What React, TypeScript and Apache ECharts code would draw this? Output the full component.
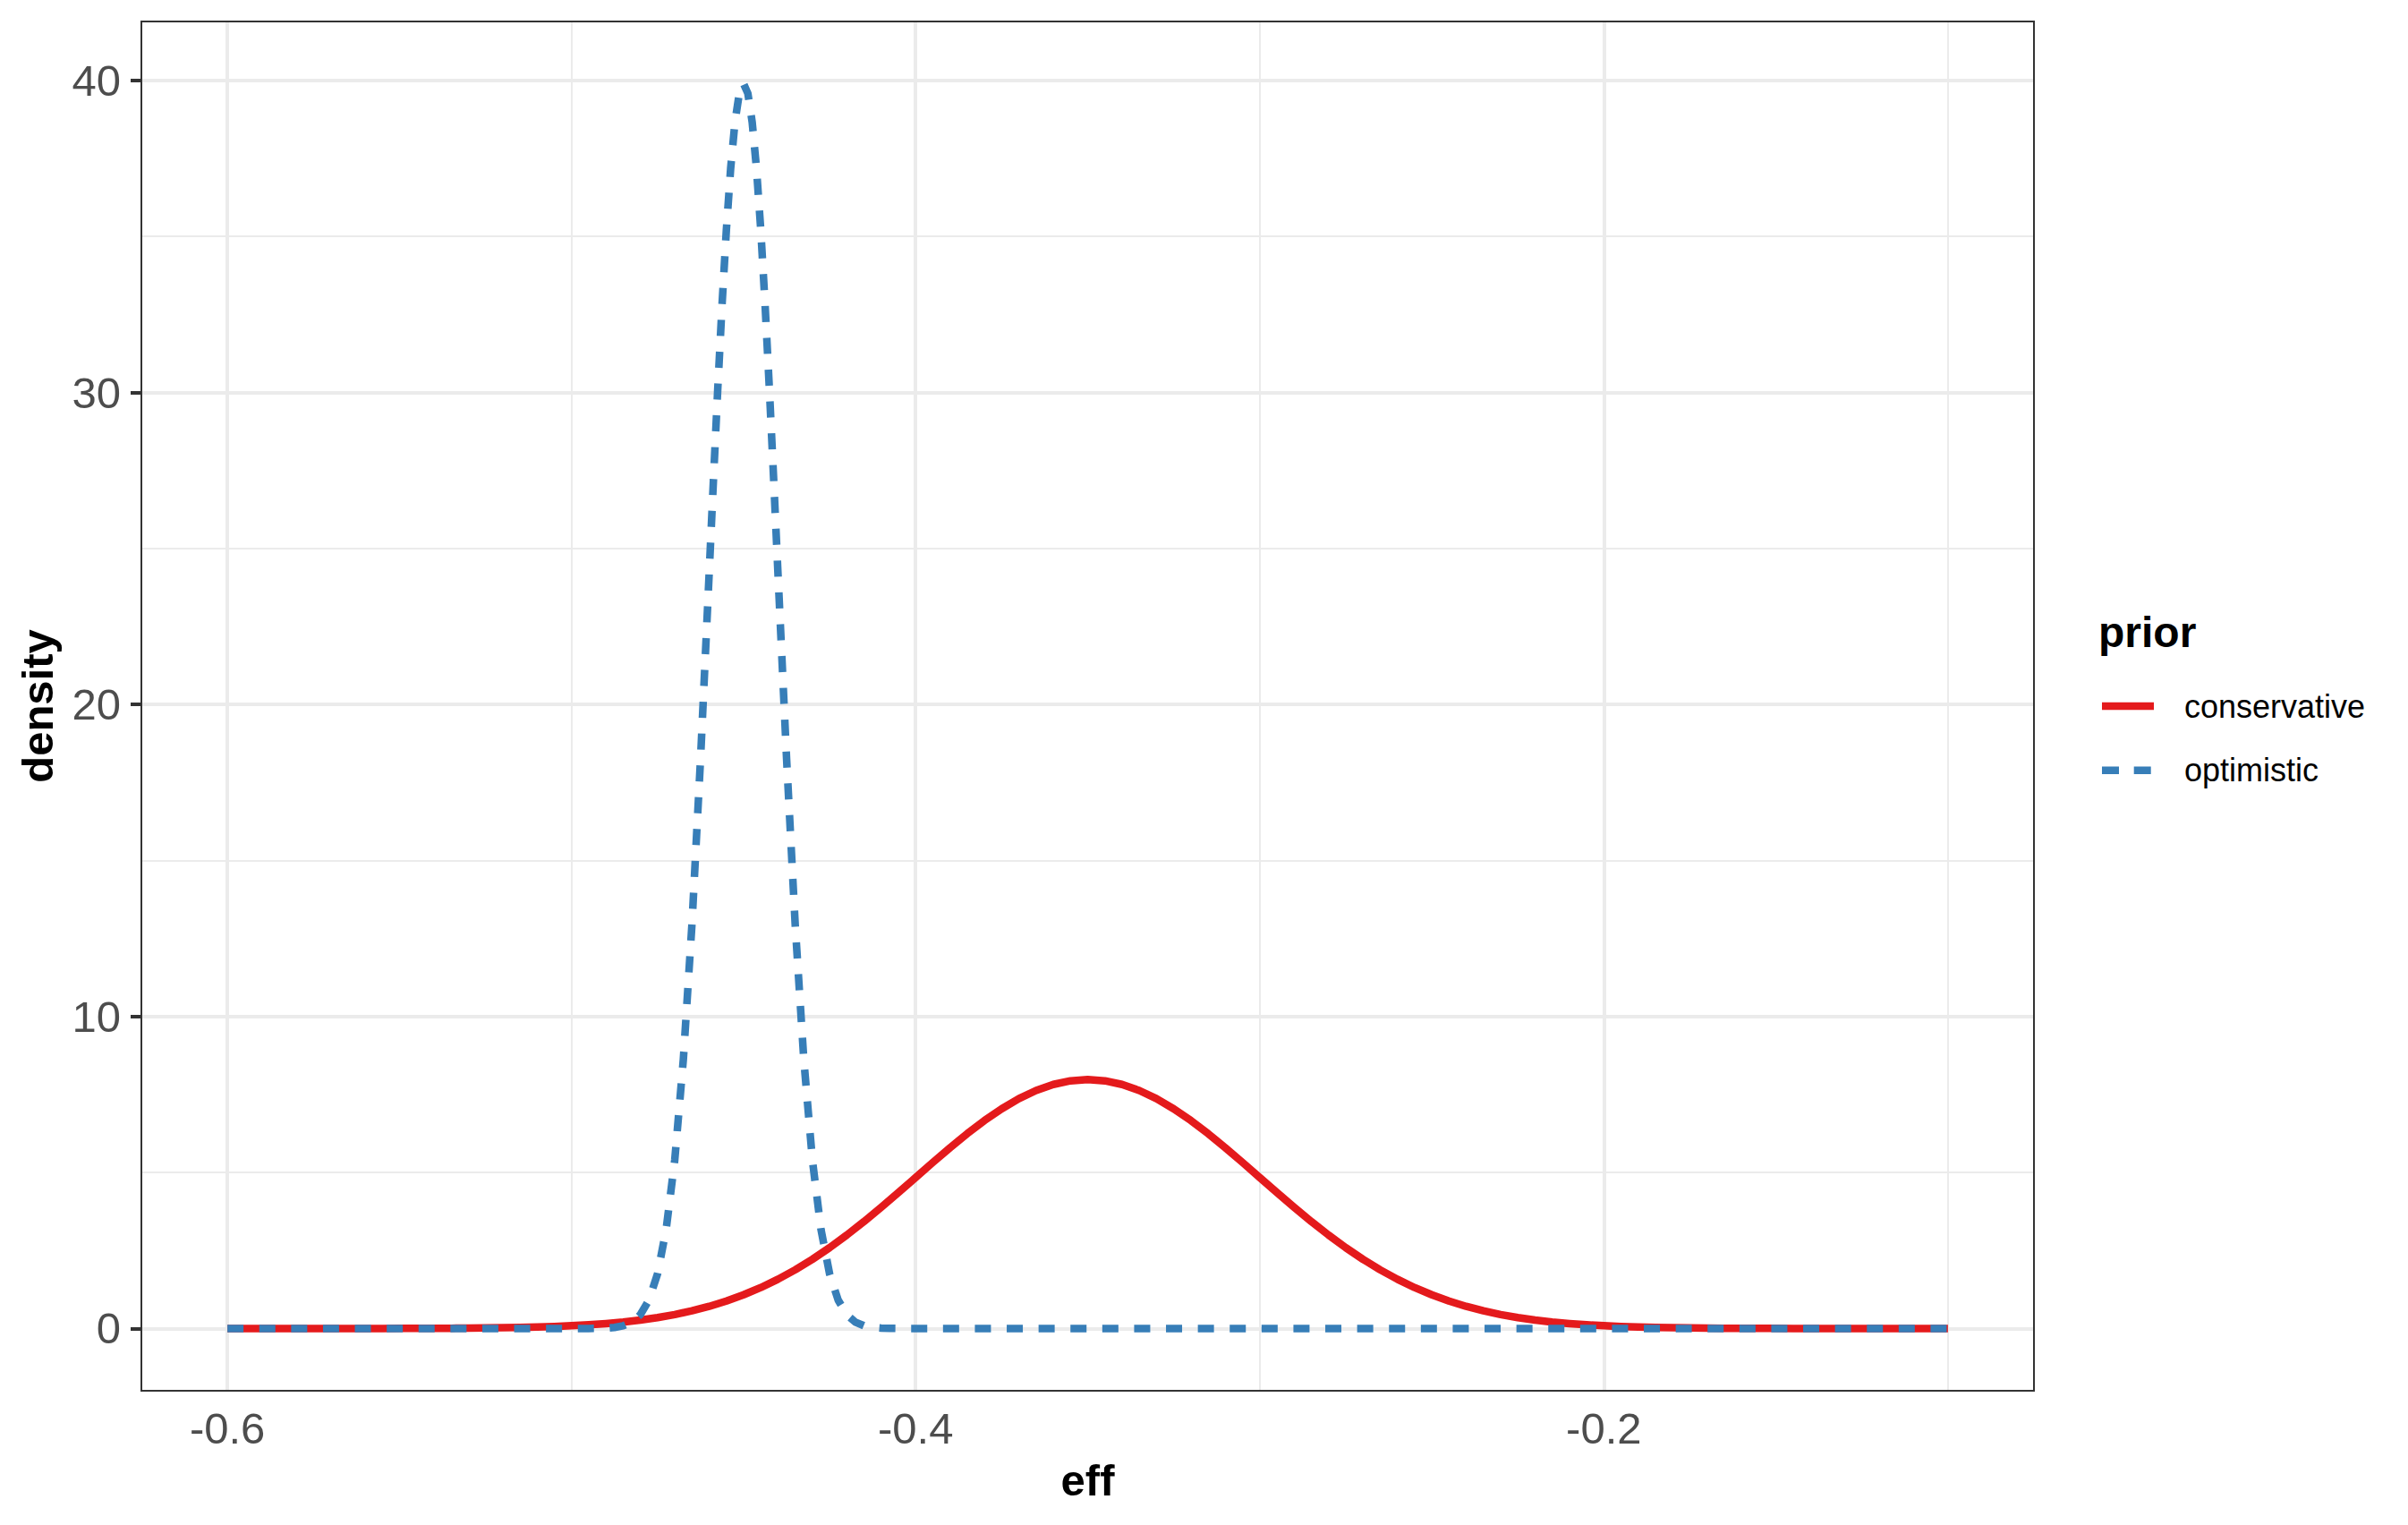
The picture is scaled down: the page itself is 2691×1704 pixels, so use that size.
import React, { useEffect, useRef } from "react";
import * as echarts from "echarts";

// ---- data ----
const xTickValues = [-0.6, -0.4, -0.2];
const yTickValues = [0, 10, 20, 30, 40];
const xMajorGrid = [-0.6, -0.4, -0.2];
const xMinorGrid = [-0.5, -0.3, -0.1];
const yMajorGrid = [0, 10, 20, 30, 40];
const yMinorGrid = [5, 15, 25, 35];

const seriesNames = ["conservative", "optimistic"];

const consX = [
  -0.6, -0.595, -0.59, -0.585, -0.58, -0.575, -0.57, -0.565, -0.56, -0.555,
  -0.55, -0.545, -0.54, -0.535, -0.53, -0.525, -0.52, -0.515, -0.51, -0.505,
  -0.5, -0.495, -0.49, -0.485, -0.48, -0.475, -0.47, -0.465, -0.46, -0.455,
  -0.45, -0.445, -0.44, -0.435, -0.43, -0.425, -0.42, -0.415, -0.41, -0.405,
  -0.4, -0.395, -0.39, -0.385, -0.38, -0.375, -0.37, -0.365, -0.36, -0.355,
  -0.35, -0.345, -0.34, -0.335, -0.33, -0.325, -0.32, -0.315, -0.31, -0.305,
  -0.3, -0.295, -0.29, -0.285, -0.28, -0.275, -0.27, -0.265, -0.26, -0.255,
  -0.25, -0.245, -0.24, -0.235, -0.23, -0.225, -0.22, -0.215, -0.21, -0.205,
  -0.2, -0.195, -0.19, -0.185, -0.18, -0.175, -0.17, -0.165, -0.16, -0.155,
  -0.15, -0.145, -0.14, -0.135, -0.13, -0.125, -0.12, -0.115, -0.11, -0.105,
  -0.1,
];
const consY = [
  0, 0, 0.0001, 0.0001, 0.0002, 0.0003, 0.0005, 0.0008, 0.0012, 0.0018,
  0.0027, 0.004, 0.0058, 0.0085, 0.0122, 0.0175, 0.0246, 0.0345, 0.0477, 0.0653,
  0.0886, 0.1191, 0.1583, 0.2084, 0.2717, 0.3506, 0.4479, 0.5665, 0.7095, 0.88,
  1.08, 1.312, 1.579, 1.881, 2.218, 2.59, 2.995, 3.427, 3.884, 4.357,
  4.839, 5.322, 5.794, 6.245, 6.664, 7.041, 7.365, 7.628, 7.821, 7.939,
  7.979, 7.939, 7.821, 7.628, 7.365, 7.041, 6.664, 6.245, 5.794, 5.322,
  4.839, 4.357, 3.884, 3.427, 2.995, 2.59, 2.218, 1.881, 1.579, 1.312,
  1.08, 0.88, 0.7095, 0.5665, 0.4479, 0.3506, 0.2717, 0.2084, 0.1583, 0.1191,
  0.0886, 0.0653, 0.0477, 0.0345, 0.0246, 0.0175, 0.0122, 0.0085, 0.0058, 0.004,
  0.0027, 0.0018, 0.0012, 0.0008, 0.0005, 0.0003, 0.0002, 0.0001, 0.0001, 0, 0,
];

const optX = [
  -0.6, -0.55, -0.5, -0.4975, -0.495, -0.4925, -0.49, -0.4875, -0.485, -0.4825,
  -0.48, -0.4775, -0.475, -0.4725, -0.47, -0.4675, -0.465, -0.4625, -0.46,
  -0.45875, -0.4575, -0.45625, -0.455, -0.45375, -0.4525, -0.45125, -0.45,
  -0.44875, -0.4475, -0.44625, -0.445, -0.44375, -0.4425, -0.44125, -0.44,
  -0.4375, -0.435, -0.4325, -0.43, -0.4275, -0.425, -0.4225, -0.42, -0.4175,
  -0.415, -0.4125, -0.41, -0.4075, -0.405, -0.4025, -0.4, -0.35, -0.3, -0.25,
  -0.2, -0.15, -0.1,
];
const optY = [
  0, 0, 0.0001, 0.0005, 0.0016, 0.0048, 0.0134, 0.0353, 0.0873, 0.2029,
  0.4432, 0.9093, 1.753, 3.174, 5.399, 8.628, 12.952, 18.265, 24.197,
  27.205, 30.114, 32.816, 35.207, 37.185, 38.667, 39.584, 39.894,
  39.584, 38.667, 37.185, 35.207, 32.816, 30.114, 27.205, 24.197,
  18.265, 12.952, 8.628, 5.399, 3.174, 1.753, 0.9093, 0.4432, 0.2029,
  0.0873, 0.0353, 0.0134, 0.0048, 0.0016, 0.0005, 0.0001, 0, 0, 0,
  0, 0, 0,
];

const FONT = "'Liberation Sans', Arial, Helvetica, sans-serif";
const RED = "#E41A1C";
const BLUE = "#377EB8";
const LINE_W = 8.5;

function zip(xs: number[], ys: number[]) {
  return xs.map((x, i) => [x, ys[i]]);
}

export default function App() {
  const ref = useRef<HTMLDivElement>(null);

  useEffect(() => {
    if (!ref.current) return;
    const chart = echarts.init(ref.current, null, { renderer: "svg" });

    const gridLines = [
      ...xMajorGrid.map((v) => ({ xAxis: v, lineStyle: { width: 4 } })),
      ...xMinorGrid.map((v) => ({ xAxis: v, lineStyle: { width: 2 } })),
      ...yMajorGrid.map((v) => ({ yAxis: v, lineStyle: { width: 4 } })),
      ...yMinorGrid.map((v) => ({ yAxis: v, lineStyle: { width: 2 } })),
    ];

    const option: any = {
      animation: false,
      backgroundColor: "#ffffff",
      textStyle: { fontFamily: FONT },
      grid: {
        left: 158,
        top: 24,
        width: 2115,
        height: 1530,
        show: true,
        borderColor: "#333333",
        borderWidth: 2,
        backgroundColor: "transparent",
        z: 5,
      },
      xAxis: {
        type: "value",
        min: -0.625,
        max: -0.075,
        axisLine: { show: false },
        splitLine: { show: false },
        axisTick: {
          show: true,
          customValues: xTickValues,
          length: 12,
          lineStyle: { color: "#333333", width: 4 },
        },
        axisLabel: {
          customValues: xTickValues,
          fontSize: 49,
          color: "#4D4D4D",
          fontFamily: FONT,
          margin: 17,
          formatter: (v: number) => v.toFixed(1),
        },
        name: "eff",
        nameLocation: "middle",
        nameGap: 75,
        nameTextStyle: {
          fontSize: 49,
          fontWeight: "bold",
          color: "#000000",
          fontFamily: FONT,
        },
      },
      yAxis: {
        type: "value",
        min: -1.995,
        max: 41.889,
        axisLine: { show: false },
        splitLine: { show: false },
        axisTick: {
          show: true,
          customValues: yTickValues,
          length: 12,
          lineStyle: { color: "#333333", width: 4 },
        },
        axisLabel: {
          customValues: yTickValues,
          fontSize: 49,
          color: "#4D4D4D",
          fontFamily: FONT,
          margin: 23,
        },
        name: "density",
        nameLocation: "middle",
        nameRotate: 90,
        nameGap: 92,
        nameTextStyle: {
          fontSize: 49,
          fontWeight: "bold",
          color: "#000000",
          fontFamily: FONT,
        },
      },
      series: [
        {
          type: "line",
          name: "grid",
          data: [[-0.6, 0]],
          symbol: "none",
          lineStyle: { opacity: 0 },
          silent: true,
          z: 1,
          markLine: {
            silent: true,
            symbol: "none",
            z: 1,
            label: { show: false },
            lineStyle: { type: "solid", color: "#EBEBEB" },
            emphasis: { disabled: true },
            data: gridLines,
          },
        },
        {
          type: "line",
          name: seriesNames[0],
          data: zip(consX, consY),
          symbol: "none",
          z: 3,
          lineStyle: { color: RED, width: LINE_W, cap: "butt", join: "round" },
          itemStyle: { color: RED },
        },
        {
          type: "line",
          name: seriesNames[1],
          data: zip(optX, optY),
          symbol: "none",
          z: 4,
          lineStyle: {
            color: BLUE,
            width: LINE_W,
            type: [18, 17.6],
            cap: "butt",
            join: "round",
          },
          itemStyle: { color: BLUE },
        },
      ],
      graphic: [
        {
          type: "text",
          x: 2345,
          y: 706.4,
          style: {
            text: "prior",
            fontSize: 48,
            fontWeight: "bold",
            fontFamily: FONT,
            fill: "#000000",
            verticalAlign: "middle",
          },
        },
        {
          type: "line",
          shape: { x1: 2349, y1: 789, x2: 2407, y2: 789 },
          style: { stroke: RED, lineWidth: LINE_W, lineCap: "butt" },
        },
        {
          type: "text",
          x: 2441,
          y: 789.2,
          style: {
            text: seriesNames[0],
            fontSize: 36,
            fontFamily: FONT,
            fill: "#000000",
            verticalAlign: "middle",
          },
        },
        {
          type: "line",
          shape: { x1: 2349, y1: 860.7, x2: 2407, y2: 860.7 },
          style: {
            stroke: BLUE,
            lineWidth: LINE_W,
            lineCap: "butt",
            lineDash: [19, 16.7],
          },
        },
        {
          type: "text",
          x: 2441,
          y: 860.8,
          style: {
            text: seriesNames[1],
            fontSize: 36,
            fontFamily: FONT,
            fill: "#000000",
            verticalAlign: "middle",
          },
        },
      ],
    };

    chart.setOption(option);
    return () => chart.dispose();
  }, []);

  return (
    <div
      ref={ref}
      style={{
        position: "absolute",
        left: 0,
        top: 0,
        width: 2691,
        height: 1704,
        background: "#ffffff",
      }}
    />
  );
}
